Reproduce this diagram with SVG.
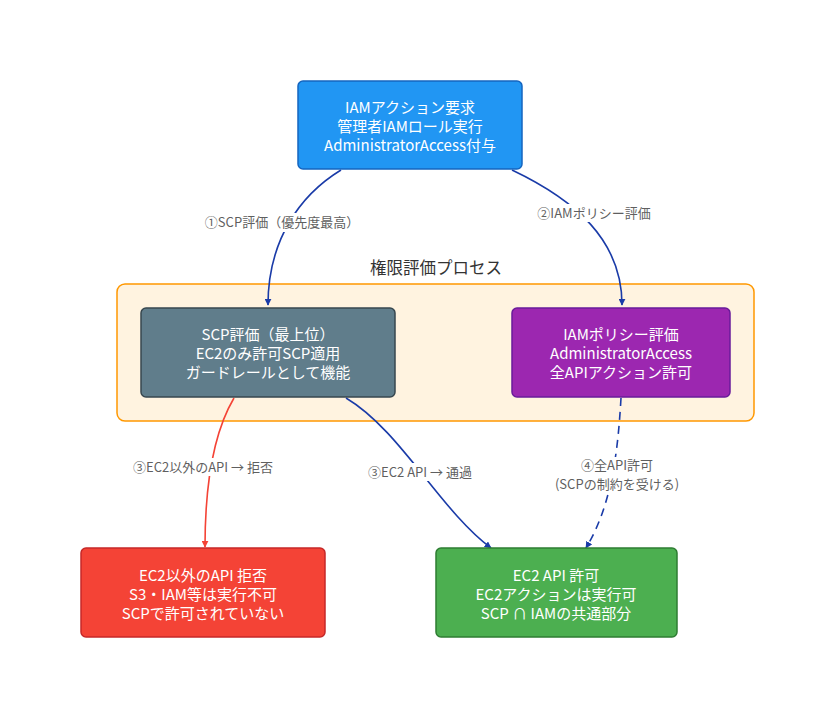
<svg xmlns="http://www.w3.org/2000/svg" width="836" height="720" viewBox="0 0 836 720">
<defs>
<style>
.nt{font-family:"Noto Sans CJK JP","Noto Sans",sans-serif;font-size:15px;fill:#ffffff;text-anchor:middle}
.lt{font-family:"Noto Sans CJK JP","Noto Sans",sans-serif;font-size:13px;fill:#5f5f5f;text-anchor:middle}
.ct{font-family:"Noto Sans CJK JP","Noto Sans",sans-serif;font-size:16.5px;fill:#333333;text-anchor:middle}
.e{fill:none;stroke:#1A3BA8;stroke-width:1.6}
.er{fill:none;stroke:#F44336;stroke-width:1.6}
.lb{fill:#ffffff}
</style>
<marker id="ab" viewBox="0 0 10 10" refX="9" refY="5" markerWidth="7" markerHeight="7" orient="auto-start-reverse" markerUnits="userSpaceOnUse"><path d="M0,0 L10,5 L0,10 z" fill="#1A3BA8"/></marker>
<marker id="ar" viewBox="0 0 10 10" refX="9" refY="5" markerWidth="7" markerHeight="7" orient="auto-start-reverse" markerUnits="userSpaceOnUse"><path d="M0,0 L10,5 L0,10 z" fill="#F44336"/></marker>
</defs>
<rect width="836" height="720" fill="#ffffff"/>
<g id="cluster">
<rect x="117" y="284" width="637" height="137" rx="8" fill="#FFF3E0" stroke="#FF9800" stroke-width="1.5"/>
<text class="ct" x="436" y="274">権限評価プロセス</text>
</g>
<g id="connectors">
<path class="e" d="M341,170 C300,195 268,240 268,305" marker-end="url(#ab)"/>
<path class="e" d="M512,170 C575,200 622,240 622,305" marker-end="url(#ab)"/>
<path class="er" d="M234,398 C215,430 205,480 205,547" marker-end="url(#ar)"/>
<path class="e" d="M346,398 C400,430 440,510 491,548" marker-end="url(#ab)"/>
<path class="e" d="M621,398 C618,450 612,505 586,548" stroke-dasharray="8,6" marker-end="url(#ab)"/>
<rect class="lb" x="200" y="213" width="164" height="19"/>
<text class="lt" x="282" y="227">①SCP評価（優先度最高）</text>
<rect class="lb" x="546" y="204" width="96" height="18"/>
<text class="lt" x="594" y="218">②IAMポリシー評価</text>
<rect class="lb" x="136" y="458" width="134" height="18"/>
<text class="lt" x="203" y="472">③EC2以外のAPI → 拒否</text>
<rect class="lb" x="362" y="463" width="116" height="18"/>
<text class="lt" x="420" y="477">③EC2 API → 通過</text>
<rect class="lb" x="560" y="457" width="114" height="36"/>
<text class="lt" x="617" y="470">④全API許可</text>
<text class="lt" x="617" y="489">(SCPの制約を受ける)</text>
</g>
<g id="n_request">
<rect x="298" y="81" width="224" height="88" rx="5" fill="#2196F3" stroke="#1565C0" stroke-width="1.5"/>
<text class="nt" x="410" y="113">IAMアクション要求</text>
<text class="nt" x="410" y="132">管理者IAMロール実行</text>
<text class="nt" x="410" y="151">AdministratorAccess付与</text>
</g>
<g id="n_scp">
<rect x="141" y="308" width="254" height="89" rx="5" fill="#607D8B" stroke="#37474F" stroke-width="1.5"/>
<text class="nt" x="268" y="340">SCP評価（最上位）</text>
<text class="nt" x="268" y="359">EC2のみ許可SCP適用</text>
<text class="nt" x="268" y="378">ガードレールとして機能</text>
</g>
<g id="n_iam">
<rect x="512" y="308" width="218" height="89" rx="5" fill="#9C27B0" stroke="#6A1B9A" stroke-width="1.5"/>
<text class="nt" x="621" y="340">IAMポリシー評価</text>
<text class="nt" x="621" y="359">AdministratorAccess</text>
<text class="nt" x="621" y="378">全APIアクション許可</text>
</g>
<g id="n_deny">
<rect x="81" y="548" width="244" height="89" rx="5" fill="#F44336" stroke="#C62828" stroke-width="1.5"/>
<text class="nt" x="203" y="581">EC2以外のAPI 拒否</text>
<text class="nt" x="203" y="600">S3・IAM等は実行不可</text>
<text class="nt" x="203" y="619">SCPで許可されていない</text>
</g>
<g id="n_allow">
<rect x="436" y="548" width="241" height="89" rx="5" fill="#4CAF50" stroke="#2E7D32" stroke-width="1.5"/>
<text class="nt" x="556" y="581">EC2 API 許可</text>
<text class="nt" x="556" y="600">EC2アクションは実行可</text>
<text class="nt" x="556" y="619">SCP ∩ IAMの共通部分</text>
</g>
</svg>
